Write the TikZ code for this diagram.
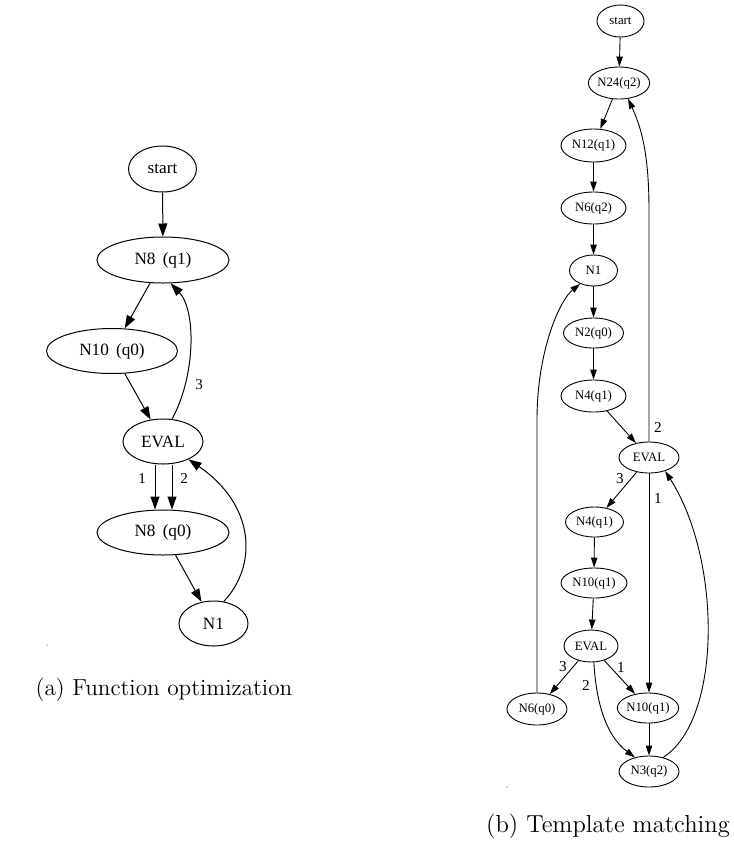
\documentclass[tikz,border=0pt]{standalone}
\usepackage{fontspec}
\newfontfamily\gv{Liberation Serif}
\usetikzlibrary{shapes.geometric,arrows.meta}
\begin{document}
\begin{tikzpicture}[x=0.5pt,y=-0.5pt,
  gvA/.style={draw, ellipse, line width=0.5pt, inner sep=0pt, font=\gv\fontsize{8.6}{10}\selectfont},
  gvB/.style={draw, ellipse, line width=0.45pt, inner sep=0pt, font=\gv\fontsize{6.4}{7}\selectfont},
  edA/.style={line width=0.5pt, -{Triangle[length=6.5pt,width=4.5pt]}},
  edB/.style={line width=0.45pt, -{Triangle[length=5pt,width=3.2pt]}},
  lblA/.style={font=\gv\fontsize{7.5}{9}\selectfont, inner sep=0pt},
  lblB/.style={font=\gv\fontsize{7.6}{9}\selectfont, inner sep=0pt},
  captA/.style={font=\fontsize{11.6}{14}\selectfont, inner sep=0pt},
  captB/.style={font=\fontsize{12.3}{14}\selectfont, inner sep=0pt}]
\useasboundingbox (0,0) rectangle (734,852);
% ---------- (a) ----------
\node[gvA, minimum width=34pt, minimum height=23pt] (startA) at (162.5,169) {start};
\node[gvA, minimum width=66pt, minimum height=23pt] (n8a) at (163,260) {N8\, (q1)};
\node[gvA, minimum width=65.5pt, minimum height=22.5pt] (n10a) at (112,351) {N10\, (q0)};
\node[gvA, minimum width=40pt, minimum height=22.5pt] (evalA) at (163,441.5) {EVAL};
\node[gvA, minimum width=66pt, minimum height=22.5pt] (n8b) at (163,532.5) {N8\, (q0)};
\node[gvA, minimum width=34.5pt, minimum height=22.5pt] (n1A) at (213.5,623.5) {N1};
\draw[edA] (startA) -- (n8a);
\draw[edA] (n8a) -- (n10a);
\draw[edA] (n10a) -- (evalA);
\draw[edA] (evalA.68) .. controls (196,375) and (196,310) .. (n8a.-72);
\draw[edA] ([xshift=-4pt]evalA.south) -- ([xshift=-4pt]evalA.south |- n8b.north);
\draw[edA] ([xshift=4.5pt]evalA.south) -- ([xshift=4.5pt]evalA.south |- n8b.north);
\draw[edA] (n8b) -- (n1A);
\draw[edA] (n1A.65) .. controls (258,565) and (255,505) .. (evalA.-35);
\node[lblA] (l3a) at (199,385) {3};
\node[lblA] (l1a) at (142,479) {1};
\node[lblA] (l2a) at (184,479) {2};
\node[captA] (capA) at (164,690) {(a) Function optimization};
\fill[black!25] (47,645) circle (0.5pt);
% ---------- (b) ----------
\node[gvB, minimum width=23.5pt, minimum height=16pt] (startB) at (620.5,21) {start};
\node[gvB, minimum width=30pt, minimum height=16pt] (n24) at (619,83) {N24(q2)};
\node[gvB, minimum width=32.5pt, minimum height=16.5pt] (n12) at (593.5,145.5) {N12(q1)};
\node[gvB, minimum width=32.5pt, minimum height=16pt] (n6) at (593.5,208) {N6(q2)};
\node[gvB, minimum width=24pt, minimum height=15.5pt] (n1B) at (593.5,270.5) {N1};
\node[gvB, minimum width=30pt, minimum height=15pt] (n2) at (593.5,333) {N2(q0)};
\node[gvB, minimum width=32.5pt, minimum height=16pt] (n4a) at (593.5,396) {N4(q1)};
\node[gvB, minimum width=30pt, minimum height=15.5pt] (evalB) at (649,457.5) {EVAL};
\node[gvB, minimum width=29pt, minimum height=15pt] (n4b) at (594.5,522) {N4(q1)};
\node[gvB, minimum width=33pt, minimum height=15pt] (n10c) at (594,583) {N10(q1)};
\node[gvB, minimum width=27pt, minimum height=16pt] (evalC) at (591,646) {EVAL};
\node[gvB, minimum width=30pt, minimum height=16pt] (n6q0) at (537,709) {N6(q0)};
\node[gvB, minimum width=30.5pt, minimum height=15pt] (n10d) at (648,708) {N10(q1)};
\node[gvB, minimum width=30pt, minimum height=15.5pt] (n3) at (649,771.5) {N3(q2)};
\draw[edB] (startB) -- (n24);
\draw[edB] (n24) -- (n12);
\draw[edB] (n12) -- (n6);
\draw[edB] (n6) -- (n1B);
\draw[edB] (n1B) -- (n2);
\draw[edB] (n2) -- (n4a);
\draw[edB] (n4a) -- (evalB);
\draw[edB] (evalB.north) -- (649,210) .. controls (649,150) and (640,125) .. (n24.-60);
\draw[edB] (evalB.south) -- (evalB.south |- n10d.north);
\draw[edB] (evalB) -- (n4b);
\draw[edB] (n4b) -- (n10c);
\draw[edB] (n10c) -- (evalC);
\draw[edB] (evalC) -- (n6q0);
\draw[edB] (evalC) -- (n10d);
\draw[edB] (evalC.-80) .. controls (596,700) and (605,735) .. (n3.135);
\draw[edB] (n10d.south -| n3) -- (n3);
\draw[edB] (n3.45) .. controls (722,720) and (722,560) .. (evalB.-40);
\draw[edB] (n6q0.north) -- (537,420) .. controls (537,350) and (560,300) .. (n1B.-135);
\node[lblB] (l2b) at (658,427) {2};
\node[lblB] (l1b) at (658,498) {1};
\node[lblB] (l3b) at (620,479) {3};
\node[lblB] (l3c) at (563,667) {3};
\node[lblB] (l2c) at (586,685) {2};
\node[lblB] (l1c) at (621,667) {1};
\node[captB] (capB) at (608,826) {(b) Template matching};
\fill[black!25] (507,787) circle (0.5pt);
\end{tikzpicture}
\end{document}
